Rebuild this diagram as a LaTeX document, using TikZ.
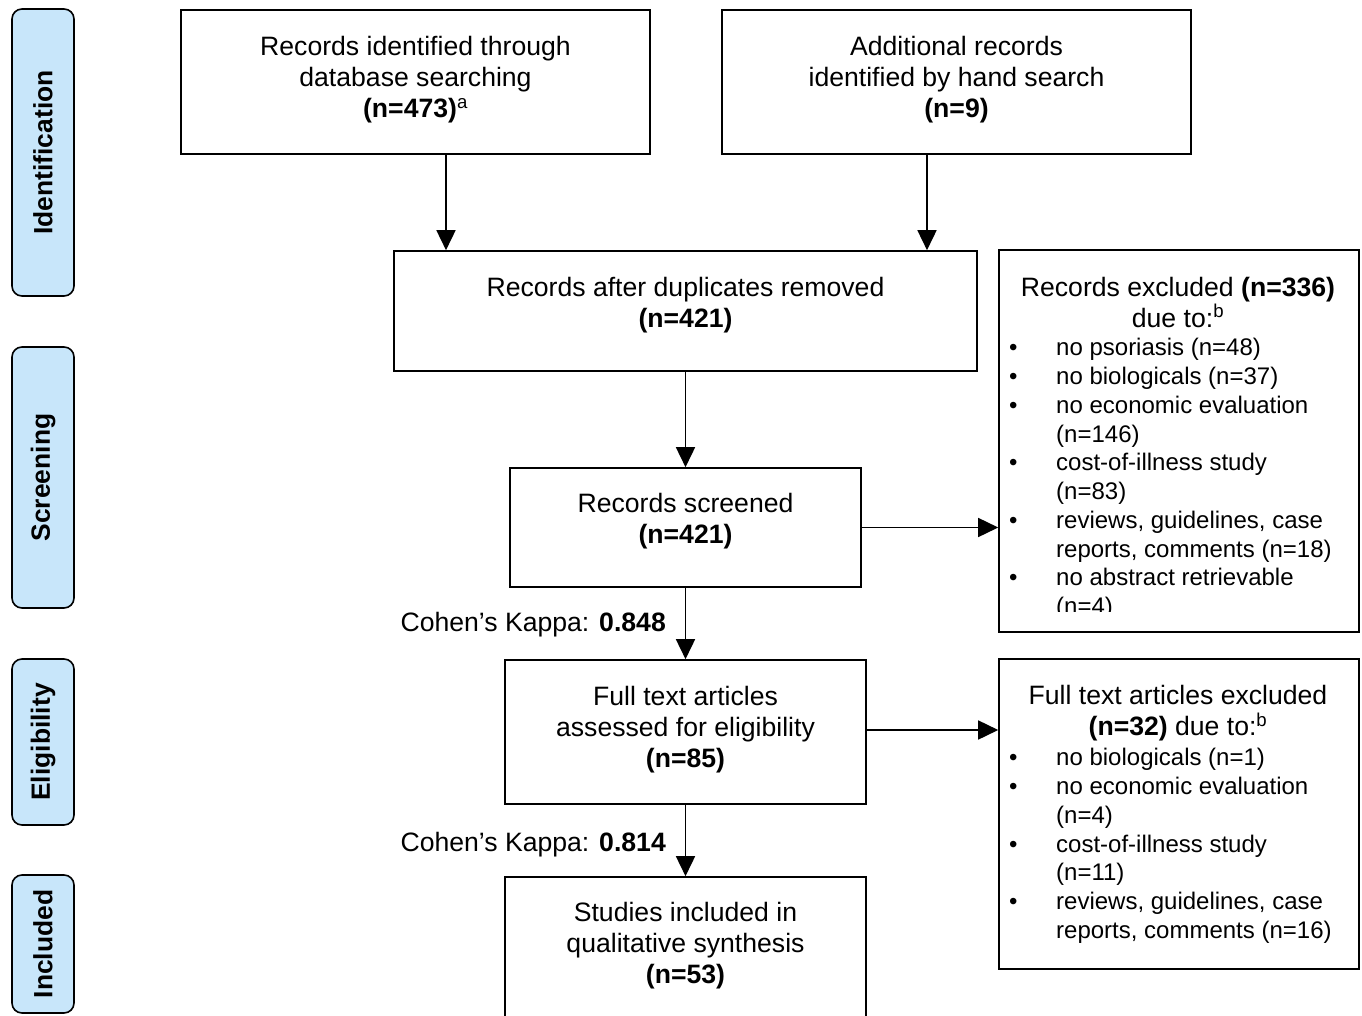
\documentclass[tikz,border=0pt]{standalone}
\usepackage{fontspec}
\setmainfont{Liberation Sans}
\usetikzlibrary{arrows.meta,calc}
\definecolor{sideblue}{RGB}{200,230,250}
\newcommand\bulitem{\llap{\makebox[47pt][l]{•}}}
\tikzset{
  box/.style={draw, line width=1.6pt, inner sep=0pt},
  txt/.style={align=center, inner sep=0pt, font=\fontsize{26.6}{31}\selectfont},
  listtxt/.style={align=left, inner sep=0pt, font=\fontsize{24}{28.75}\selectfont},
  side/.style={draw, line width=1.6pt, fill=sideblue, rounded corners=10pt, inner sep=0pt,
    rotate=90, minimum height=62pt, font=\fontsize{26.4}{30}\selectfont\bfseries},
  arr/.style={line width=1.6pt, -{Triangle[length=20pt,width=19pt]}}
}
\begin{document}
\begin{tikzpicture}[x=1pt,y=-1pt]
\useasboundingbox (0,0) rectangle (1362,1016);
\clip (0,0) rectangle (1362,1016);
\fill[white] (0,0) rectangle (1362,1016);

% side labels
\node[side, minimum width=287pt] (sIdent) at (43,152.5) {Identification};
\node[side, minimum width=261pt] (sScreen) at (43,477.5) {Screening};
\node[side, minimum width=166pt] (sElig) at (43,742) {Eligibility};
\node[side, minimum width=138pt] (sIncl) at (43,944) {Included};

% main boxes
\node[box, minimum width=469pt, minimum height=144pt] (b1) at (415.5,82) {};
\node[txt] (t1) at (415.5,80) {Records identified through\\database searching\\\textbf{(n=473)}\textsuperscript{a}};
\node[box, minimum width=469pt, minimum height=144pt] (b2) at (956.5,82) {};
\node[txt] (t2) at (956.5,80) {Additional records\\identified by hand search\\\textbf{(n=9)}};
\node[box, minimum width=583pt, minimum height=120pt] (b3) at (685.5,311) {};
\node[txt] (t3) at (685.5,305.5) {Records after duplicates removed\\\textbf{(n=421)}};
\node[box, minimum width=351pt, minimum height=119pt] (b4) at (685.5,527.5) {};
\node[txt] (t4) at (685.5,521.5) {Records screened\\\textbf{(n=421)}};
\node[box, minimum width=361pt, minimum height=144pt] (b5) at (685.5,732) {};
\node[txt] (t5) at (685.5,730) {Full text articles\\assessed for eligibility\\\textbf{(n=85)}};
\node[box, minimum width=361pt, minimum height=160pt] (b6) at (685.5,957) {};
\node[txt] (t6) at (685.5,946) {Studies included in\\qualitative synthesis\\\textbf{(n=53)}};

% right boxes
\node[box, minimum width=360pt, minimum height=382pt] (r1) at (1179,441) {};
\node[txt] (h1) at (1178,302) {Records excluded \textbf{(n=336)}\\due to:\textsuperscript{b}};
\begin{scope}
\clip (999,250) rectangle (1359,611);
\node[listtxt, anchor=west] (l1) at (1056,479) {\bulitem no psoriasis (n=48)\\
\bulitem no biologicals (n=37)\\
\bulitem no economic evaluation\\
(n=146)\\
\bulitem cost-of-illness study\\
(n=83)\\
\bulitem reviews, guidelines, case\\
reports, comments (n=18)\\
\bulitem no abstract retrievable\\
(n=4)};
\end{scope}

\node[box, minimum width=360pt, minimum height=310pt] (r2) at (1179,814) {};
\node[txt] (h2) at (1178,713) {Full text articles excluded\\\textbf{(n=32)} due to:\textsuperscript{b}};
\node[listtxt, anchor=west] (l2) at (1056,846) {\bulitem no biologicals (n=1)\\
\bulitem no economic evaluation\\
(n=4)\\
\bulitem cost-of-illness study\\
(n=11)\\
\bulitem reviews, guidelines, case\\
reports, comments (n=16)};

% kappa labels
\node[txt, anchor=east] (k1) at (666,625) {Cohen’s Kappa: \textbf{0.848}};
\node[txt, anchor=east] (k2) at (666,845) {Cohen’s Kappa: \textbf{0.814}};

% arrows
\draw[arr] ([xshift=30.5pt]b1.south) -- ([xshift=30.5pt]b1.south |- b3.north);
\draw[arr] ([xshift=-29.5pt]b2.south) -- ([xshift=-29.5pt]b2.south |- b3.north);
\draw[arr] (b3.south) -- (b4.north);
\draw[arr] (b4.south) -- (b5.north);
\draw[arr] (b5.south) -- (b6.north);
\draw[arr] (b4.east) -- (b4.east -| r1.west);
\draw[arr] ([yshift=2pt]b5.east) -- ([yshift=2pt]b5.east -| r2.west);
\end{tikzpicture}
\end{document}
